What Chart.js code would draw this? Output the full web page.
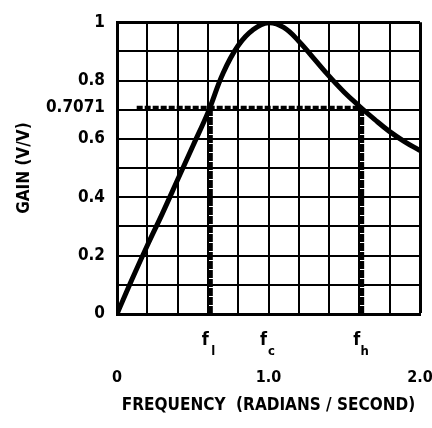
<!DOCTYPE html>
<html>
<head>
<meta charset="utf-8">
<script src="https://cdn.jsdelivr.net/npm/chart.js@4.4.1/dist/chart.umd.min.js"></script>
<style>
  html, body { margin: 0; padding: 0; background: #fff; }
  #wrap { width: 432px; height: 428px; }
</style>
</head>
<body>
<div id="wrap"><canvas id="chart"></canvas></div>
<script>
// gain curve
const freq = [0, 0.1, 0.2, 0.3, 0.4, 0.5, 0.6, 0.7, 0.8, 0.9, 1.0, 1.1, 1.2, 1.3, 1.4, 1.5, 1.6, 1.7, 1.8, 1.9, 2.0];
const gain = [0, 0.12, 0.235, 0.345, 0.46, 0.575, 0.69, 0.825, 0.92, 0.975, 0.998, 0.982, 0.935, 0.875, 0.815, 0.76, 0.712, 0.667, 0.625, 0.59, 0.56];

// tick labels
const xTickValues = [0, 1, 2];
const xTickText = ['0', '1.0', '2.0'];
const yTickValues = [0, 0.2, 0.4, 0.6, 0.7071, 0.8, 1];
const yTickText = ['0', '0.2', '0.4', '0.6', '0.7071', '0.8', '1'];

// -3 dB markers
const markerNames = ['l', 'c', 'h'];
const markerFreqs = [0.616, 1.0, 1.615];
const halfPower = 0.7071;
const dashStart = 0.13;

const FONT = "'DejaVu Sans Condensed', 'Liberation Sans Narrow', sans-serif";

function findLabel(values, texts, v) {
  const i = values.findIndex(t => Math.abs(t - v) < 1e-6);
  return i >= 0 ? texts[i] : '';
}

// f_l, f_c, f_h under the axis
const markerLabels = {
  id: 'markerLabels',
  afterDraw(chart) {
    const ctx = chart.ctx;
    const x = chart.scales.x;
    const yBase = chart.chartArea.bottom + 26;
    ctx.save();
    ctx.fillStyle = '#000';
    ctx.textBaseline = 'middle';
    ctx.textAlign = 'center';
    markerFreqs.forEach((f, i) => {
      const px = x.getPixelForValue(f);
      ctx.font = 'bold 18px ' + FONT;
      ctx.fillText('f', px - 5, yBase);
      ctx.font = 'bold 13px ' + FONT;
      ctx.fillText(markerNames[i], px + 3, yBase + 12);
    });
    ctx.restore();
  }
};

const fLow = markerFreqs[0];
const fHigh = markerFreqs[2];

new Chart(document.getElementById('chart'), {
  type: 'line',
  data: {
    datasets: [
      {
        data: freq.map((f, i) => ({ x: f, y: gain[i] })),
        borderColor: '#000',
        borderWidth: 5,
        pointRadius: 0,
        tension: 0.4
      },
      {
        data: [{ x: dashStart, y: halfPower }, { x: fHigh, y: halfPower }],
        borderColor: '#000',
        borderWidth: 4,
        borderDash: [6, 2],
        pointRadius: 0
      },
      {
        data: [{ x: fLow, y: 0 }, { x: fLow, y: halfPower }],
        borderColor: '#000',
        borderWidth: 5,
        borderDash: [8, 1],
        pointRadius: 0
      },
      {
        data: [{ x: fHigh, y: 0 }, { x: fHigh, y: halfPower }],
        borderColor: '#000',
        borderWidth: 5,
        borderDash: [8, 1],
        pointRadius: 0
      }
    ]
  },
  options: {
    responsive: true,
    maintainAspectRatio: false,
    animation: false,
    layout: { padding: { top: 19, right: 12, left: 14, bottom: 8 } },
    plugins: { legend: { display: false }, tooltip: { enabled: false } },
    scales: {
      x: {
        type: 'linear',
        min: 0,
        max: 2,
        ticks: {
          stepSize: 0.2,
          autoSkip: false,
          maxRotation: 0,
          padding: 54,
          color: '#000',
          font: { family: FONT, size: 16, weight: 'bold' },
          callback: v => findLabel(xTickValues, xTickText, v)
        },
        grid: {
          color: '#000',
          lineWidth: c => (c.tick && c.tick.value === 2 ? 3 : 2),
          drawTicks: false
        },
        border: { color: '#000', width: 3 },
        title: {
          display: true,
          text: 'FREQUENCY  (RADIANS / SECOND)',
          color: '#000',
          font: { family: FONT, size: 17, weight: 'bold' },
          padding: { top: 12 }
        },
        afterFit: axis => {
          axis.height = 106;
          // tick padding would otherwise also pad the sides
          axis.paddingLeft = 0;
          axis.paddingRight = 0;
        }
      },
      y: {
        type: 'linear',
        min: 0,
        max: 1,
        afterBuildTicks: axis => {
          const t = [];
          for (let i = 0; i <= 10; i++) t.push({ value: i / 10 });
          t.push({ value: halfPower });
          axis.ticks = t;
        },
        ticks: {
          autoSkip: false,
          padding: 12,
          color: '#000',
          font: { family: FONT, size: 17, weight: 'bold' },
          callback: v => findLabel(yTickValues, yTickText, v)
        },
        grid: {
          color: c => (c.tick && c.tick.value === halfPower ? 'rgba(0,0,0,0)' : '#000'),
          lineWidth: c => (c.tick && c.tick.value === 1 ? 3 : 2),
          drawTicks: false
        },
        border: { color: '#000', width: 3 },
        title: {
          display: true,
          text: 'GAIN (V/V)',
          color: '#000',
          font: { family: FONT, size: 17, weight: 'bold' },
          padding: 0
        },
        afterFit: axis => { axis.width = 103; }
      }
    }
  },
  plugins: [markerLabels]
});
</script>
</body>
</html>
